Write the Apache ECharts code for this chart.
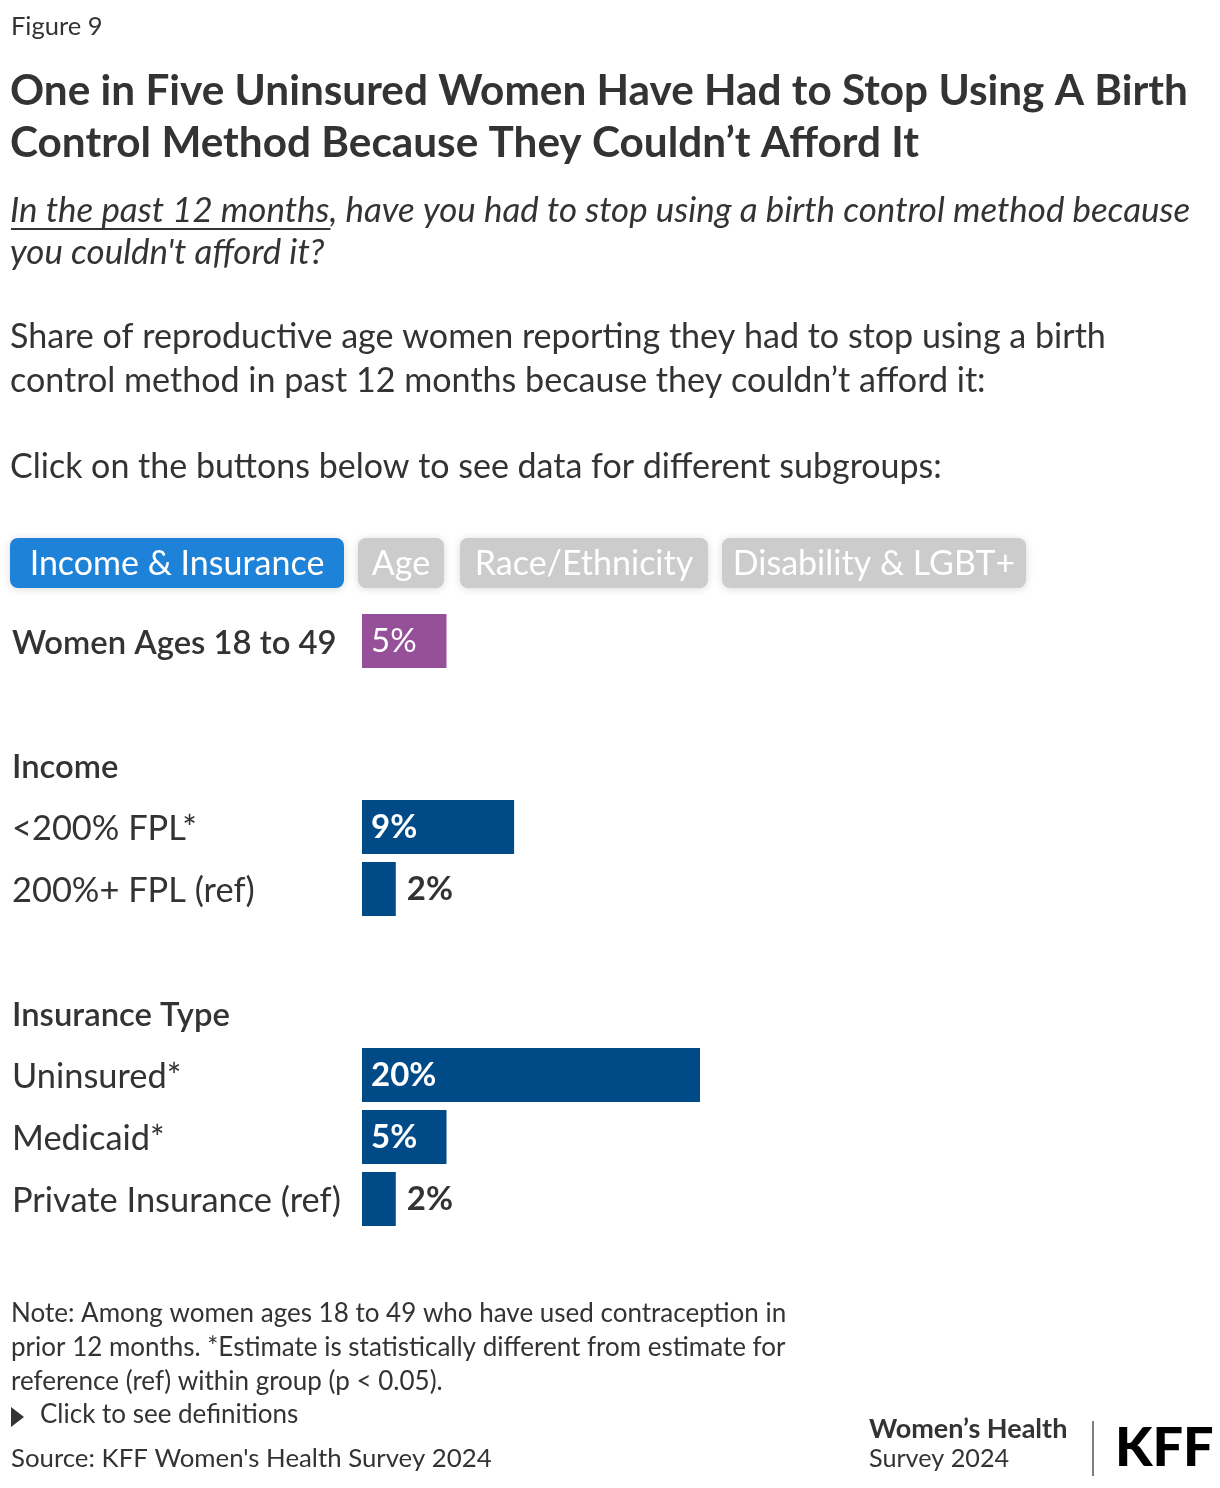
<!DOCTYPE html>
<html>
<head>
<meta charset="utf-8">
<script src="https://cdn.jsdelivr.net/npm/echarts@6/dist/echarts.min.js"></script>
<style>
html,body{margin:0;padding:0;background:#fff;}
#chart{width:1220px;height:1488px;}
</style>
</head>
<body>
<div id="chart"></div>
<script>
// ---- data ----
const categories = ['Women Ages 18 to 49', ' ', 'Income', '<200% FPL*', '200%+ FPL (ref)', '  ', 'Insurance Type', 'Uninsured*', 'Medicaid*', 'Private Insurance (ref)'];
const values = [5, null, null, 9, 2, null, null, 20, 5, 2];
const headerRows = ['Women Ages 18 to 49', 'Income', 'Insurance Type'];
const totalRows = ['Women Ages 18 to 49'];
const buttons = ['Income & Insurance', 'Age', 'Race/Ethnicity', 'Disability & LGBT+'];

const FONT = 'Lato, "Noto Sans", sans-serif';
const TXT = '#333333';
const BLUE = '#004b87';
const PURPLE = '#955099';

function measure(text, font) {
  const c = document.createElement('canvas').getContext('2d');
  c.font = font;
  return c.measureText(text).width;
}

const chart = echarts.init(document.getElementById('chart'), null, {renderer: 'canvas'});

const pct = p => p.value + '%';
const seriesData = values.map((v, i) => {
  if (v === null) return null;
  const isTotal = totalRows.includes(categories[i]);
  const inside = v >= 5;
  return {
    value: v,
    itemStyle: {color: isTotal ? PURPLE : BLUE},
    label: inside ? {
      show: true, position: 'insideLeft', distance: 9, color: '#fff', formatter: pct,
      fontSize: 33, fontWeight: isTotal ? 'normal' : 'bold', fontFamily: FONT, padding: [4, 0, 0, 0]
    } : {
      show: true, position: 'right', distance: 11, color: TXT, formatter: pct,
      fontSize: 33, fontWeight: 'bold', fontFamily: FONT, padding: [4, 0, 0, 0]
    }
  };
});

// graphic texts
const graphics = [];
function txt(x, y, text, size, opts) {
  opts = opts || {};
  graphics.push({
    type: 'text', left: x, top: y,
    style: Object.assign({
      text: text, fill: TXT, fontSize: size, fontFamily: FONT,
      fontWeight: opts.weight || 'normal', fontStyle: opts.style || 'normal'
    }, opts.extra || {})
  });
}
txt(11, 14, 'Figure 9', 25.5);
txt(10, 70, 'One in Five Uninsured Women Have Had to Stop Using A Birth', 42.3, {weight: 'bold'});
txt(10, 122, 'Control Method Because They Couldn\u2019t Afford It', 42.3, {weight: 'bold'});
txt(10, 193, 'In the past 12 months, have you had to stop using a birth control method because', 34.9, {style: 'italic'});
txt(10, 235, "you couldn't afford it?", 34.9, {style: 'italic'});
// underline
const ulW = measure('In the past 12 months', 'italic 34.9px ' + FONT);
graphics.push({type: 'line', shape: {x1: 11, y1: 229, x2: 11 + ulW, y2: 229}, style: {stroke: TXT, lineWidth: 2}});
txt(10, 320, 'Share of reproductive age women reporting they had to stop using a birth', 34.1);
txt(10, 364, 'control method in past 12 months because they couldn\u2019t afford it:', 34.1);
txt(10, 450, 'Click on the buttons below to see data for different subgroups:', 34);

// buttons
const btnX = [10, 358, 460, 722];
const btnW = [334, 86, 248, 304];
buttons.forEach((b, i) => {
  graphics.push({
    type: 'rect', shape: {x: btnX[i], y: 538, width: btnW[i], height: 50, r: 8},
    style: {fill: i === 0 ? '#1e82d8' : '#cccccc', shadowBlur: 8, shadowColor: 'rgba(0,0,0,0.15)', shadowOffsetY: 1}
  });
  graphics.push({
    type: 'text', x: btnX[i] + btnW[i] / 2, y: 564,
    style: {text: b, fill: '#fff', fontSize: 34, fontFamily: FONT, textAlign: 'center', textVerticalAlign: 'middle'}
  });
});

// notes
const notes = [
  'Note: Among women ages 18 to 49 who have used contraception in',
  'prior 12 months. *Estimate is statistically different from estimate for',
  'reference (ref) within group (p < 0.05).'
];
notes.forEach((n, i) => txt(11, 1301 + i * 34, n, 26));
graphics.push({type: 'polygon', shape: {points: [[11, 1407], [11, 1427], [24, 1417]]}, style: {fill: TXT}});
txt(40, 1402, 'Click to see definitions', 26);
txt(11, 1446, "Source: KFF Women's Health Survey 2024", 25.8);

// logo
txt(869, 1416, 'Women\u2019s Health', 27, {weight: 'bold'});
txt(869, 1446, 'Survey 2024', 25.2);
graphics.push({type: 'line', shape: {x1: 1093, y1: 1421, x2: 1093, y2: 1476}, style: {stroke: '#555', lineWidth: 1.5}});
txt(1115, 1422, 'KFF', 54, {weight: 900, extra: {fill: '#000'}});

const option = {
  animation: false,
  backgroundColor: '#fff',
  graphic: graphics,
  grid: {left: 362, top: 610, width: 845, height: 620, containLabel: false},
  xAxis: {
    type: 'value', min: 0, max: 50, show: false
  },
  yAxis: {
    type: 'category', data: categories, inverse: true,
    axisLine: {show: false}, axisTick: {show: false}, splitLine: {show: false},
    axisLabel: {
      align: 'left', margin: 350,
      formatter: function (v) {
        const t = v.trim();
        if (!t) return '';
        return headerRows.includes(t) ? '{h|' + t + '}' : '{n|' + t + '}';
      },
      rich: {
        h: {fontSize: 32.8, fontWeight: 600, color: TXT, fontFamily: FONT, padding: [4, 0, 0, 0]},
        n: {fontSize: 34.4, color: TXT, fontFamily: FONT, padding: [4, 0, 0, 0]}
      }
    }
  },
  series: [{
    type: 'bar', data: seriesData, barWidth: 54, silent: true,
    label: {formatter: pct}
  }]
};
chart.setOption(option);
</script>
</body>
</html>
